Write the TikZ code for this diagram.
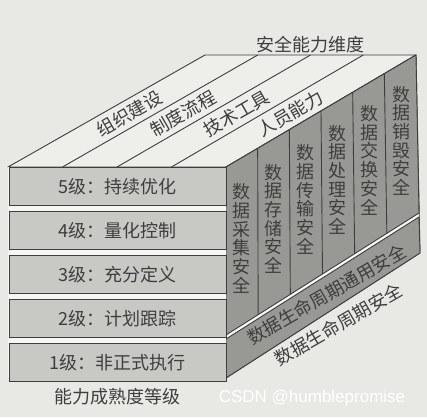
\documentclass[tikz,border=0pt]{standalone}
\usepackage{fontspec}
\usepackage{tkz-euclide}
\usetikzlibrary{calc, positioning}
\setmainfont{Noto Sans CJK SC}
\newfontfamily\markfont{Liberation Sans}
\tikzset{>=stealth}
\definecolor{paper}{RGB}{232,232,229}
\definecolor{frontgray}{RGB}{200,200,197}
\definecolor{sidegray}{RGB}{152,152,149}
\definecolor{topwhite}{RGB}{238,238,235}
\definecolor{inkgray}{RGB}{62,62,62}
\newcommand{\cnfont}{\fontsize{18}{18.7}\selectfont}
\tikzset{
    levelbox/.style={draw=inkgray, fill=frontgray, line width=0.9pt,
        minimum width=217pt, minimum height=38pt, inner sep=0pt,
        text=inkgray, font=\cnfont},
    facetext/.style={text=inkgray, font=\cnfont, inner sep=0pt},
    edge/.style={draw=inkgray, line width=0.9pt}
}

\begin{document}
\begin{tikzpicture}[x=1pt, y=1pt]
    \useasboundingbox[fill=paper] (0,0) rectangle (427,417);
    \tkzDefPoints{8/250/FTL, 226/250/FTR, 226/39/FBR, 205/362/BTL, 416/362/BTR}
    \tkzDefPoints{226/82/SU, 226/78/SB, 419/204/BU, 419/200/BB, 420/164/BBR}
    % top face
    \tkzDrawPolygon[edge, fill=topwhite](FTL,FTR,BTR,BTL)
    \foreach \i in {1,2,3}
        \draw[edge] ($(FTL)!\i/4!(FTR)$) -- ($(BTL)!\i/4!(BTR)$);
    \foreach \lab [count=\i] in {组织建设, 制度流程, 技术工具, 人员能力} {
        \coordinate (tf\i) at ($(FTL)!{(\i-0.5)/4}!(FTR)$);
        \coordinate (tb\i) at ($(BTL)!{(\i-0.5)/4}!(BTR)$);
        \node[facetext, rotate=30] (top\i) at ($(tf\i)!0.48!(tb\i)$) {\lab};
    }
    \node[facetext, above=2pt] (dims) at ($(BTL)!0.5!(BTR)$) {安全能力维度};
    % right face
    \tkzDrawPolygon[edge, fill=white!70!paper](FTR,BTR,BBR,FBR)
    \tkzDrawPolygon[edge, fill=sidegray](FTR,BTR,BU,SU)
    \tkzDrawPolygon[edge, fill=sidegray](SB,BB,BBR,FBR)
    \foreach \i in {1,...,5}
        \draw[edge] ($(FTR)!\i/6!(BTR)$) -- ($(SU)!\i/6!(BU)$);
    \foreach \col [count=\i] in {数\\据\\采\\集\\安\\全, 数\\据\\存\\储\\安\\全,
        数\\据\\传\\输\\安\\全, 数\\据\\处\\理\\安\\全, 数\\据\\交\\换\\安\\全,
        数\\据\\销\\毁\\安\\全} {
        \coordinate (ct\i) at ($(FTR)!{(\i-0.5)/6}!(BTR)$);
        \coordinate (cb\i) at ($(SU)!{(\i-0.5)/6}!(BU)$);
        \node[facetext, align=center, yshift=3pt] (col\i) at ($(ct\i)!0.5!(cb\i)$) {\col};
    }
    \coordinate (bandtop) at ($(SB)!0.52!(BB)$);
    \coordinate (bandbot) at ($(FBR)!0.52!(BBR)$);
    \node[facetext, rotate=30] (band) at ($(bandtop)!0.5!(bandbot)$) {数据生命周期通用安全};
    \node[facetext, rotate=30, anchor=north, inner sep=7pt] (life) at ($(FBR)!0.54!(BBR)$) {数据生命周期安全};
    % front face
    \fill[white!60!paper] (FTL) rectangle (FBR);
    \node[levelbox, anchor=north west] (lv5) at ($(FTL)+(0.5,-0.5)$) {5级：持续优化};
    \node[levelbox, below=5pt of lv5] (lv4) {4级：量化控制};
    \node[levelbox, below=5pt of lv4] (lv3) {3级：充分定义};
    \node[levelbox, below=5pt of lv3] (lv2) {2级：计划跟踪};
    \node[levelbox, below=5pt of lv2] (lv1) {1级：非正式执行};
    \node[facetext, below=6pt of lv1] (levels) {能力成熟度等级};
    \node[font=\markfont\fontsize{17}{17}\selectfont, text=white] (mark) at (312,19) {CSDN @humblepromise};
\end{tikzpicture}
\end{document}
